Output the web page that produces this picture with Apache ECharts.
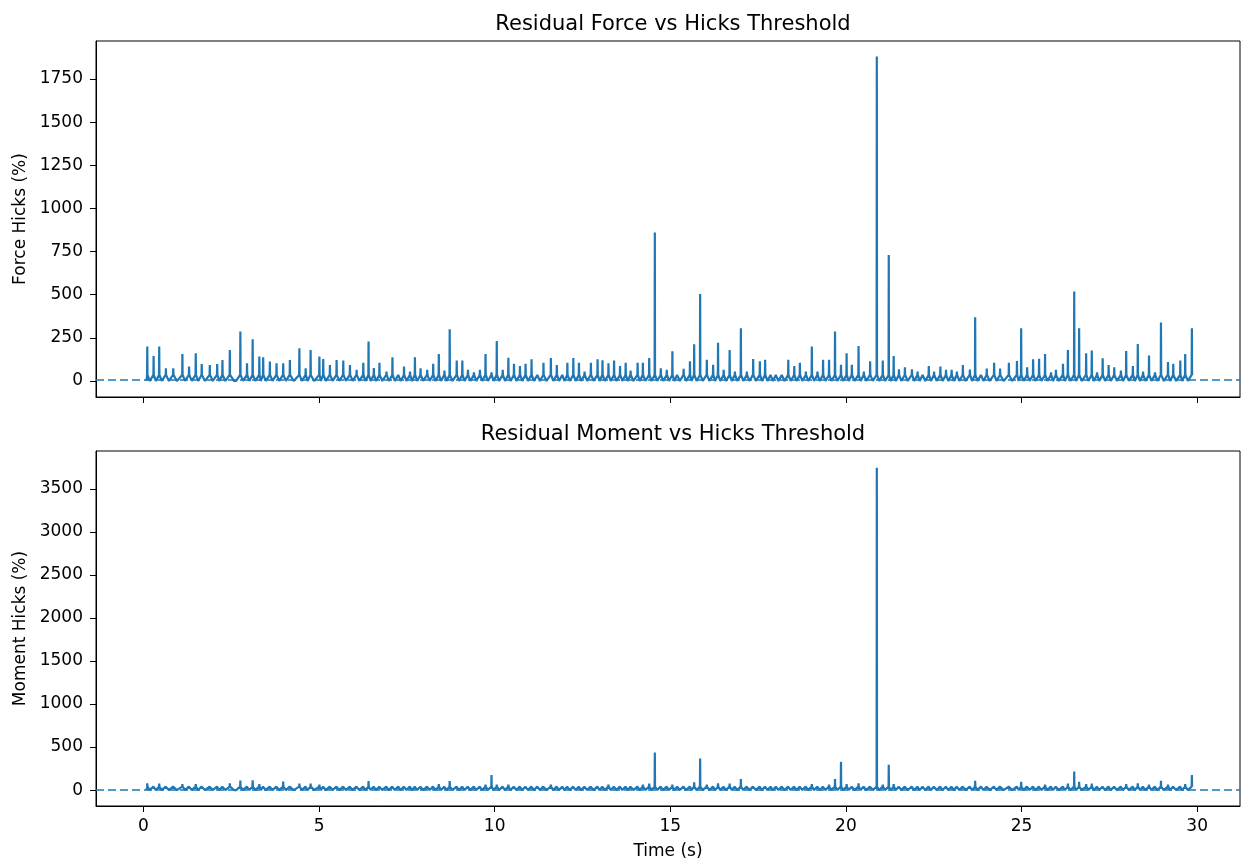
<!DOCTYPE html>
<html>
<head>
<meta charset="utf-8">
<title>Residual Force / Moment vs Hicks Threshold</title>
<script src="https://cdn.jsdelivr.net/npm/echarts@6/dist/echarts.min.js"></script>
<style>
  html, body { margin: 0; padding: 0; background: #fff; }
  #chart { width: 1241px; height: 861px; }
</style>
</head>
<body>
<div id="chart"></div>
<script>
// Times (s) of each residual spike
const spikeTimes = [
  0.11,0.29,0.45,0.64,0.85,1.11,1.30,1.49,1.66,1.89,
  2.10,2.25,2.46,2.76,2.95,3.11,3.30,3.41,3.60,3.79,
  3.98,4.17,4.44,4.62,4.76,5.01,5.12,5.31,5.50,5.69,
  5.88,6.07,6.26,6.41,6.56,6.72,6.92,7.09,7.26,7.42,
  7.59,7.73,7.89,8.08,8.25,8.41,8.57,8.72,8.92,9.08,
  9.24,9.41,9.58,9.74,9.91,10.06,10.23,10.39,10.55,10.72,
  10.88,11.05,11.22,11.39,11.60,11.77,11.93,12.07,12.24,12.40,
  12.56,12.74,12.93,13.07,13.24,13.40,13.57,13.73,13.87,14.07,
  14.22,14.40,14.56,14.73,14.90,15.06,15.20,15.38,15.56,15.68,
  15.85,16.04,16.22,16.36,16.52,16.69,16.84,17.01,17.18,17.36,
  17.55,17.70,17.86,18.01,18.18,18.36,18.53,18.69,18.86,19.03,
  19.19,19.35,19.52,19.69,19.86,20.02,20.17,20.36,20.51,20.69,
  20.88,21.05,21.22,21.36,21.51,21.68,21.88,22.04,22.19,22.36,
  22.51,22.69,22.85,23.01,23.16,23.33,23.53,23.68,23.85,24.01,
  24.22,24.39,24.64,24.87,24.99,25.16,25.33,25.50,25.67,25.84,
  25.98,26.18,26.32,26.50,26.64,26.84,27.00,27.15,27.31,27.48,
  27.64,27.83,27.98,28.17,28.31,28.46,28.63,28.80,28.97,29.17,
  29.32,29.52,29.66,29.85
];

// Force Hicks (%) at each spike
const forcePeaks = [
  199,145,199,73,73,156,83,160,98,93,
  98,122,180,286,102,242,141,137,112,102,
  102,122,189,73,180,141,127,93,122,118,
  93,64,106,228,75,106,54,137,40,83,
  54,137,73,64,100,156,60,299,118,118,
  64,50,64,156,50,232,64,135,100,87,
  100,126,46,106,133,93,46,106,133,106,
  54,106,126,120,102,118,87,106,60,106,
  106,133,860,73,64,172,40,71,114,212,
  504,123,94,222,65,180,54,305,54,127,
  114,123,45,40,45,123,87,106,54,199,
  54,123,123,286,94,160,94,203,54,114,
  1880,118,730,145,67,79,67,54,40,87,
  54,83,64,64,54,93,66,369,43,72,
  106,72,106,116,305,79,126,128,156,50,
  64,100,180,518,305,160,176,50,132,93,
  79,60,174,87,214,54,147,50,338,110,
  100,119,156,305
];

// Moment Hicks (%) at each spike
const momentPeaks = [
  80,60,75,50,55,70,55,70,55,55,
  60,55,80,110,55,115,70,60,55,55,
  100,60,75,50,75,65,55,50,55,60,
  50,50,55,105,50,55,50,60,45,50,
  50,60,50,50,55,70,50,105,60,55,
  50,50,50,65,174,65,50,65,55,55,
  55,60,45,55,65,50,45,55,60,55,
  50,55,60,55,65,55,50,55,50,55,
  65,75,437,55,50,65,45,50,55,89,
  367,65,55,80,50,75,50,127,50,60,
  55,60,45,45,45,55,50,55,50,70,
  50,60,65,127,328,70,60,80,50,60,
  3745,65,293,70,50,55,50,50,45,50,
  50,50,50,50,50,55,50,108,45,50,
  55,50,55,60,97,50,60,60,65,45,
  50,55,75,216,95,70,75,45,60,55,
  50,45,70,55,80,50,65,45,108,65,
  55,60,70,174
];

// Level the trace returns to right beside each spike, and the trough floor between spikes
const forceShoulder = 35, forceFloor = 0;
const momentShoulder = 40, momentFloor = 0;

// Hicks threshold drawn as the dashed reference line
const hicksThreshold = 5;

const xTicks = [0, 5, 10, 15, 20, 25, 30];
const forceTicks = [0, 250, 500, 750, 1000, 1250, 1500, 1750];
const momentTicks = [0, 500, 1000, 1500, 2000, 2500, 3000, 3500];

// Turn the spike list into a polyline: sharp rise to each peak, a trough between spikes
function buildTrace(times, peaks, shoulder, floor) {
  const pts = [[times[0] - 0.02, floor]];
  for (let i = 0; i < times.length; i++) {
    const t = times[i];
    pts.push([t - 0.006, shoulder], [t, peaks[i]], [t + 0.006, shoulder]);
    if (i < times.length - 1) {
      const gap = times[i + 1] - t;
      pts.push([t + gap * 0.4, floor], [t + gap * 0.6, floor]);
    }
  }
  return pts;
}

const BLUE = '#1f77b4';
const FONT = 'DejaVu Sans';
const plain = v => String(v);
const chart = echarts.init(document.getElementById('chart'), null, { renderer: 'canvas' });

function yAxisFor(gridIndex, name, ticks, min, max) {
  return {
    type: 'value', gridIndex, min, max, name,
    nameLocation: 'middle', nameGap: 64, nameRotate: 90,
    nameTextStyle: { fontFamily: FONT, fontSize: 17, color: '#000' },
    splitLine: { show: false },
    axisLine: { show: true, onZero: false, lineStyle: { color: '#000', width: 1 } },
    axisTick: { show: true, length: 6, lineStyle: { color: '#000', width: 1 }, customValues: ticks },
    axisLabel: { fontFamily: FONT, fontSize: 17, color: '#000', margin: 13, customValues: ticks, formatter: plain }
  };
}

function xAxisFor(gridIndex, showLabels) {
  return {
    type: 'value', gridIndex, min: -1.35, max: 31.22,
    name: showLabels ? 'Time (s)' : '',
    nameLocation: 'middle', nameGap: 37,
    nameTextStyle: { fontFamily: FONT, fontSize: 17, color: '#000' },
    splitLine: { show: false },
    axisLine: { show: true, onZero: false, lineStyle: { color: '#000', width: 1 } },
    axisTick: { show: true, length: 6, lineStyle: { color: '#000', width: 1 }, customValues: xTicks },
    axisLabel: { show: showLabels, fontFamily: FONT, fontSize: 17, color: '#000', margin: 12, customValues: xTicks, formatter: plain }
  };
}

function traceSeries(idx, data, threshold) {
  return {
    type: 'line', xAxisIndex: idx, yAxisIndex: idx,
    data, showSymbol: false, symbol: 'none', sampling: null,
    lineStyle: { color: BLUE, width: 2.2 },
    itemStyle: { color: BLUE },
    animation: false,
    markLine: {
      silent: true, symbol: 'none', animation: false,
      label: { show: false },
      lineStyle: { color: BLUE, width: 1.6, type: [8, 4] },
      data: [{ yAxis: threshold }]
    }
  };
}

chart.setOption({
  backgroundColor: '#fff',
  animation: false,
  title: [
    { text: 'Residual Force vs Hicks Threshold', left: 668, top: 9, textAlign: 'center',
      textStyle: { fontFamily: FONT, fontSize: 21, fontWeight: 'normal', color: '#000' } },
    { text: 'Residual Moment vs Hicks Threshold', left: 668, top: 419, textAlign: 'center',
      textStyle: { fontFamily: FONT, fontSize: 21, fontWeight: 'normal', color: '#000' } }
  ],
  grid: [
    { left: 96, top: 41, width: 1144, height: 356, show: true, borderColor: '#000', borderWidth: 1, backgroundColor: 'transparent' },
    { left: 96, top: 451, width: 1144, height: 356, show: true, borderColor: '#000', borderWidth: 1, backgroundColor: 'transparent' }
  ],
  xAxis: [xAxisFor(0, false), xAxisFor(1, true)],
  yAxis: [
    yAxisFor(0, 'Force Hicks (%)', forceTicks, -93, 1970),
    yAxisFor(1, 'Moment Hicks (%)', momentTicks, -185, 3940)
  ],
  series: [
    traceSeries(0, buildTrace(spikeTimes, forcePeaks, forceShoulder, forceFloor), hicksThreshold),
    traceSeries(1, buildTrace(spikeTimes, momentPeaks, momentShoulder, momentFloor), hicksThreshold)
  ]
});
</script>
</body>
</html>
